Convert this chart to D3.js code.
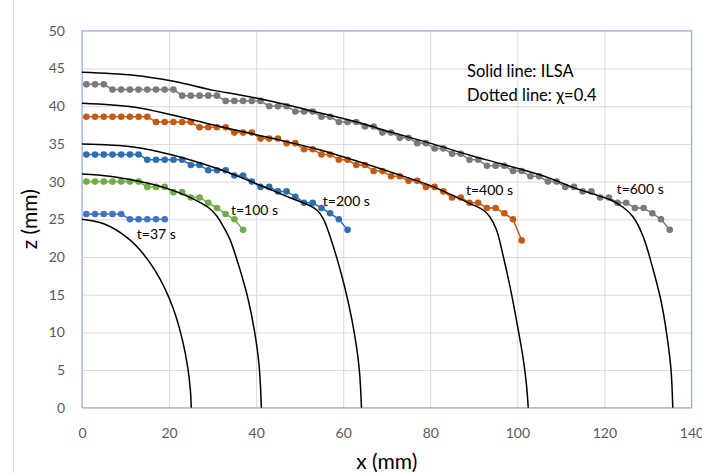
<!DOCTYPE html>
<html>
<head>
<meta charset="utf-8">
<script src="https://cdn.jsdelivr.net/npm/d3@7"></script>
<style>
body { margin: 0; background: #fff; }
svg { display: block; font-family: Lato, 'Liberation Sans', sans-serif; }
</style>
</head>
<body>
<svg></svg>
<script>
var xTicks = [0, 20, 40, 60, 80, 100, 120, 140]
var yTicks = [0, 5, 10, 15, 20, 25, 30, 35, 40, 45, 50]

// ILSA solid lines, [x, z] in mm
var ilsa37 = [[0, 25.0], [5.0, 24.4], [10.3, 22.6], [14.1, 20.4], [17.9, 17.1], [21.0, 13.1], [23.1, 8.9], [24.3, 5.3], [24.9, 2.3], [25.1, 0]]
var ilsa100 = [[0, 31.0], [6.4, 30.7], [13.3, 30.0], [19.5, 29.1], [24.8, 27.9], [29.4, 26.4], [31.0, 25.4], [32.5, 24.0], [34.0, 22.3], [36.3, 18.3], [38.2, 14.3], [39.7, 9.9], [40.7, 5.5], [41.2, 0]]
var ilsa200 = [[0, 35.0], [11.8, 34.6], [21.0, 33.5], [30.2, 31.9], [36.3, 30.6], [43.9, 28.8], [48.5, 27.7], [52.4, 26.8], [54.0, 26.2], [55.4, 25.1], [57.0, 22.7], [59.3, 18.3], [61.2, 13.9], [62.7, 9.4], [63.7, 5.0], [64.2, 0]]
var ilsa400 = [[0, 40.4], [11.8, 39.9], [21.0, 38.8], [30.2, 37.5], [39.3, 36.3], [45.5, 35.5], [54.7, 34.2], [63.8, 32.6], [70.7, 31.3], [79.9, 29.5], [89.1, 27.1], [92.2, 26.2], [93.7, 25.3], [95.2, 23.6], [96.8, 20.0], [98.3, 16.1], [99.8, 11.6], [101.4, 6.3], [102.1, 3.0], [102.5, 0]]
var ilsa600 = [[0, 44.5], [11.8, 44.1], [21.0, 43.3], [30.2, 42.1], [36.3, 41.5], [45.5, 40.4], [54.7, 39.1], [63.8, 37.8], [70.7, 36.6], [79.9, 35.1], [89.1, 33.5], [96.0, 32.4], [105.2, 30.9], [114.4, 28.9], [121.3, 27.6], [124.3, 26.6], [126.6, 25.3], [128.9, 22.7], [131.2, 18.3], [133.1, 13.9], [134.4, 9.4], [135.3, 5.0], [135.7, 0]]

// dotted lines, chi = 0.4
var dot37 = [[1, 25.7], [3, 25.7], [5, 25.7], [7, 25.7], [9, 25.7], [11, 25.0], [13, 25.0], [15, 25.0], [17, 25.0], [19, 25.0]]
var dot100 = [[1, 30.0], [3, 30.0], [5, 30.0], [7, 30.0], [9, 30.0], [11, 30.0], [13, 30.0], [15, 29.3], [17, 29.3], [19, 29.3], [21, 28.6], [23, 28.6], [25, 27.9], [27, 27.9], [29, 27.2], [31, 26.5], [33, 25.7], [35, 25.0], [37, 23.6]]
var dot200 = [[1, 33.6], [3, 33.6], [5, 33.6], [7, 33.6], [9, 33.6], [11, 33.6], [13, 33.6], [15, 32.9], [17, 32.9], [19, 32.9], [21, 32.9], [23, 32.9], [25, 32.2], [27, 32.2], [29, 31.5], [31, 31.5], [33, 31.5], [35, 30.8], [37, 30.8], [39, 30.0], [41, 29.3], [43, 29.3], [45, 28.7], [47, 28.7], [49, 28.0], [51, 27.2], [53, 27.2], [55, 26.5], [57, 25.8], [59, 25.0], [61, 23.6]]
var dot400 = [[1, 38.6], [3, 38.6], [5, 38.6], [7, 38.6], [9, 38.6], [11, 38.6], [13, 38.6], [15, 38.6], [17, 37.9], [19, 37.9], [21, 37.9], [23, 37.9], [25, 37.9], [27, 37.2], [29, 37.2], [31, 37.2], [33, 37.2], [35, 36.5], [37, 36.5], [39, 36.5], [41, 35.7], [43, 35.7], [45, 35.7], [47, 35.1], [49, 35.1], [51, 34.3], [53, 34.3], [55, 33.6], [57, 33.6], [59, 32.9], [61, 32.9], [63, 32.2], [65, 32.2], [67, 31.4], [69, 31.4], [71, 30.7], [73, 30.7], [75, 30.1], [77, 30.1], [79, 29.3], [81, 29.3], [83, 28.7], [85, 27.9], [87, 27.9], [89, 27.2], [91, 27.2], [93, 26.5], [95, 26.5], [97, 25.8], [99, 25.0], [101, 22.2]]
var dot600 = [[1, 42.9], [3, 42.9], [5, 42.9], [7, 42.2], [9, 42.2], [11, 42.2], [13, 42.2], [15, 42.2], [17, 42.2], [19, 42.2], [21, 42.2], [23, 41.4], [25, 41.4], [27, 41.4], [29, 41.4], [31, 41.4], [33, 40.7], [35, 40.7], [37, 40.7], [39, 40.7], [41, 40.7], [43, 40.0], [45, 40.0], [47, 40.0], [49, 39.3], [51, 39.3], [53, 39.3], [55, 38.6], [57, 38.6], [59, 37.9], [61, 37.9], [63, 37.9], [65, 37.3], [67, 37.3], [69, 36.5], [71, 36.5], [73, 35.8], [75, 35.8], [77, 35.1], [79, 35.1], [81, 34.4], [83, 34.4], [85, 33.7], [87, 33.7], [89, 32.9], [91, 32.9], [93, 32.1], [95, 32.1], [97, 32.1], [99, 31.4], [101, 31.4], [103, 30.7], [105, 30.7], [107, 30.0], [109, 30.0], [111, 29.3], [113, 29.3], [115, 28.7], [117, 28.7], [119, 27.9], [121, 27.9], [123, 27.2], [125, 27.2], [127, 26.5], [129, 26.5], [131, 25.8], [133, 25.0], [135, 23.6]]

var timeLabels = ['t=37 s', 't=100 s', 't=200 s', 't=400 s', 't=600 s']
var labelPos = [[12.6, 22.4], [34.2, 25.6], [55.3, 26.8], [88.2, 28.2], [122.8, 28.4]]

var W = 702, H = 473
var plotL = 82, plotR = 691.5, plotT = 30.8, plotB = 407.8

var svg = d3.select('svg').attr('width', W).attr('height', H)

var x = d3.scaleLinear().domain([0, 140]).range([plotL, plotR])
var y = d3.scaleLinear().domain([0, 50]).range([plotB, plotT])

svg.append('line')
    .attr('x1', 13.5).attr('x2', 13.5).attr('y1', 0).attr('y2', H)
    .attr('stroke', '#d9d9d9')

svg.append('g')
    .attr('transform', 'translate(0,' + plotB + ')')
    .call(d3.axisBottom(x).tickValues(xTicks).tickSize(-(plotB - plotT)).tickFormat(''))
    .call((g) => g.select('.domain').remove())
    .selectAll('line').attr('stroke', '#d9d9d9')

svg.append('g')
    .attr('transform', 'translate(' + plotL + ',0)')
    .call(d3.axisLeft(y).tickValues(yTicks).tickSize(-(plotR - plotL)).tickFormat(''))
    .call((g) => g.select('.domain').remove())
    .selectAll('line').attr('stroke', '#d9d9d9')

svg.append('rect')
    .attr('x', plotL).attr('y', plotT)
    .attr('width', plotR - plotL).attr('height', plotB - plotT)
    .attr('fill', 'none').attr('stroke', '#8faadc')

var xAxis = svg.append('g')
    .attr('transform', 'translate(0,' + plotB + ')')
    .call(d3.axisBottom(x).tickValues(xTicks).tickSize(0).tickPadding(20))
var yAxis = svg.append('g')
    .attr('transform', 'translate(' + plotL + ',0)')
    .call(d3.axisLeft(y).tickValues(yTicks).tickSize(0).tickPadding(17))

;[xAxis, yAxis].forEach((g) => {
    g.select('.domain').remove()
    g.selectAll('text').attr('fill', '#595959').style('font-size', '14px').style('font-family', 'Lato, sans-serif')
})

var smooth = d3.line().x((d) => x(d[0])).y((d) => y(d[1])).curve(d3.curveCatmullRom.alpha(0.5))
var straight = d3.line().x((d) => x(d[0])).y((d) => y(d[1]))

var dotted = [
    { data: dot37, color: '#4472c4' },
    { data: dot100, color: '#70ad47' },
    { data: dot200, color: '#2e6eb0' },
    { data: dot400, color: '#c55a11' },
    { data: dot600, color: '#7a7a7a' }
]

dotted.forEach((s) => {
    svg.append('path')
        .attr('d', straight(s.data))
        .attr('fill', 'none')
        .attr('stroke', s.color)
        .attr('stroke-width', 1.5)
    svg.append('g').selectAll('circle')
        .data(s.data)
        .enter()
        .append('circle')
        .attr('cx', (d) => x(d[0]))
        .attr('cy', (d) => y(d[1]))
        .attr('r', 3.3)
        .attr('fill', s.color)
})

;[ilsa37, ilsa100, ilsa200, ilsa400, ilsa600].forEach((s) => {
    svg.append('path')
        .attr('d', smooth(s))
        .attr('fill', 'none')
        .attr('stroke', '#000')
        .attr('stroke-width', 1.5)
})

svg.append('g').selectAll('text')
    .data(timeLabels)
    .enter()
    .append('text')
    .attr('x', (d, i) => x(labelPos[i][0]))
    .attr('y', (d, i) => y(labelPos[i][1]))
    .style('font-size', '14px')
    .attr('fill', '#000')
    .text((d) => d)

svg.append('text')
    .attr('x', 467).attr('y', 77)
    .style('font-size', '16.5px')
    .text('Solid line: ILSA')
svg.append('text')
    .attr('x', 467).attr('y', 101)
    .style('font-size', '16.5px')
    .text('Dotted line: \u03c7=0.4')

svg.append('text')
    .attr('transform', 'translate(37,' + ((plotT + plotB) / 2) + ') rotate(-90)')
    .attr('text-anchor', 'middle')
    .style('font-size', '21px')
    .text('z (mm)')

svg.append('text')
    .attr('x', (plotL + plotR) / 2).attr('y', 469)
    .attr('text-anchor', 'middle')
    .style('font-size', '21px')
    .text('x (mm)')
</script>
</body>
</html>
